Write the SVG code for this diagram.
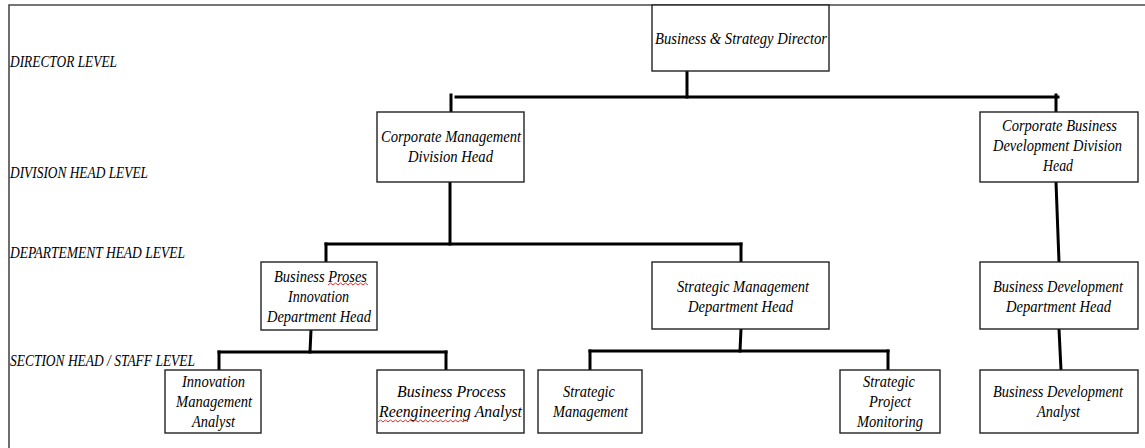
<svg xmlns="http://www.w3.org/2000/svg" width="1145" height="448" viewBox="0 0 1145 448">
<style>
.frame{fill:none;stroke:#4a4a4a;stroke-width:1.6}
.box{fill:#fff;stroke:#222;stroke-width:1.4}
.conn{fill:none;stroke:#000;stroke-width:3;stroke-linecap:square}
.t{font-family:"Liberation Serif","Times New Roman",serif;font-style:italic;font-size:16px;fill:#000;text-anchor:middle}
.lvl{font-family:"Liberation Serif","Times New Roman",serif;font-style:italic;font-size:16px;fill:#000}
.sq{fill:none;stroke:#e0302a;stroke-width:1}
</style>
<rect width="1145" height="448" fill="#fff"/>
<path class="frame" d="M9 448 V5 H1145"/>
<g id="levels">
<text class="lvl" x="10" y="67" textLength="107" lengthAdjust="spacingAndGlyphs">DIRECTOR LEVEL</text>
<text class="lvl" x="10" y="178" textLength="138" lengthAdjust="spacingAndGlyphs">DIVISION HEAD LEVEL</text>
<text class="lvl" x="10" y="258" textLength="175" lengthAdjust="spacingAndGlyphs">DEPARTEMENT HEAD LEVEL</text>
<text class="lvl" x="10" y="366" textLength="185" lengthAdjust="spacingAndGlyphs">SECTION HEAD / STAFF LEVEL</text>
</g>
<g id="connectors">
<path class="conn" d="M687 72 V97"/>
<path class="conn" d="M456 97 H1058"/>
<path class="conn" d="M451 95 V112"/>
<path class="conn" d="M1056 95 V112"/>
<path class="conn" d="M450 182 V244"/>
<path class="conn" d="M326 244 H741"/>
<path class="conn" d="M326 244 V262"/>
<path class="conn" d="M741 244 V262"/>
<path class="conn" d="M1056 182 L1059 262"/>
<path class="conn" d="M311 330 L310 352"/>
<path class="conn" d="M219 352 H446"/>
<path class="conn" d="M219 352 V370"/>
<path class="conn" d="M446 352 V370"/>
<path class="conn" d="M741 329 L740 351"/>
<path class="conn" d="M590 351 H888"/>
<path class="conn" d="M590 351 V370"/>
<path class="conn" d="M888 351 V370"/>
<path class="conn" d="M1059 329 L1061 370"/>
</g>
<g id="director">
<rect class="box" x="652" y="5" width="177" height="66"/>
<text class="t" x="741" y="44" textLength="172" lengthAdjust="spacingAndGlyphs">Business &amp; Strategy Director</text>
</g>
<g id="corp-mgmt-div">
<rect class="box" x="377" y="112" width="147" height="70"/>
<text class="t" x="451" y="142" textLength="140" lengthAdjust="spacingAndGlyphs">Corporate Management</text>
<text class="t" x="450.5" y="162" textLength="85" lengthAdjust="spacingAndGlyphs">Division Head</text>
</g>
<g id="corp-bd-div">
<rect class="box" x="980" y="112" width="158" height="70"/>
<text class="t" x="1059.5" y="131" textLength="115" lengthAdjust="spacingAndGlyphs">Corporate Business</text>
<text class="t" x="1057.5" y="151" textLength="129" lengthAdjust="spacingAndGlyphs">Development Division</text>
<text class="t" x="1058" y="171" textLength="30" lengthAdjust="spacingAndGlyphs">Head</text>
</g>
<g id="bpi-dept">
<rect class="box" x="261" y="262" width="116" height="68"/>
<text class="t" x="320.5" y="282" textLength="93" lengthAdjust="spacingAndGlyphs">Business Proses</text>
<text class="t" x="318.5" y="302" textLength="61" lengthAdjust="spacingAndGlyphs">Innovation</text>
<text class="t" x="319" y="322" textLength="104" lengthAdjust="spacingAndGlyphs">Department Head</text>
<path class="sq" d="M328 285 l2.5 -2 l2.5 2 l2.5 -2 l2.5 2 l2.5 -2 l2.5 2 l2.5 -2 l2.5 2 l2.5 -2 l2.5 2 l2.5 -2 l2.5 2 l2.5 -2 l2.5 2 l2.5 -2 l2.5 2"/>
</g>
<g id="sm-dept">
<rect class="box" x="652" y="262" width="177" height="67"/>
<text class="t" x="743" y="292" textLength="132" lengthAdjust="spacingAndGlyphs">Strategic Management</text>
<text class="t" x="740.5" y="312" textLength="105" lengthAdjust="spacingAndGlyphs">Department Head</text>
</g>
<g id="bd-dept">
<rect class="box" x="980" y="262" width="158" height="67"/>
<text class="t" x="1058" y="292" textLength="130" lengthAdjust="spacingAndGlyphs">Business Development</text>
<text class="t" x="1058.5" y="312" textLength="105" lengthAdjust="spacingAndGlyphs">Department Head</text>
</g>
<g id="innovation-analyst">
<rect class="box" x="165" y="370" width="96" height="63"/>
<text class="t" x="213.5" y="387" textLength="63" lengthAdjust="spacingAndGlyphs">Innovation</text>
<text class="t" x="214" y="407" textLength="76" lengthAdjust="spacingAndGlyphs">Management</text>
<text class="t" x="213.5" y="427" textLength="43" lengthAdjust="spacingAndGlyphs">Analyst</text>
</g>
<g id="bpr-analyst">
<rect class="box" x="377" y="370" width="147" height="63"/>
<text class="t" x="451.5" y="397" textLength="109" lengthAdjust="spacingAndGlyphs">Business Process</text>
<text class="t" x="450.5" y="417" textLength="143" lengthAdjust="spacingAndGlyphs">Reengineering Analyst</text>
<path class="sq" d="M378 422 l2.5 -2 l2.5 2 l2.5 -2 l2.5 2 l2.5 -2 l2.5 2 l2.5 -2 l2.5 2 l2.5 -2 l2.5 2 l2.5 -2 l2.5 2 l2.5 -2 l2.5 2 l2.5 -2 l2.5 2 l2.5 -2 l2.5 2 l2.5 -2 l2.5 2 l2.5 -2 l2.5 2 l2.5 -2 l2.5 2 l2.5 -2 l2.5 2 l2.5 -2 l2.5 2 l2.5 -2 l2.5 2 l2.5 -2 l2.5 2 l2.5 -2 l2.5 2 l2.5 -2 l2.5 2"/>
</g>
<g id="strategic-mgmt">
<rect class="box" x="538" y="370" width="104" height="63"/>
<text class="t" x="589" y="397" textLength="52" lengthAdjust="spacingAndGlyphs">Strategic</text>
<text class="t" x="590.5" y="417" textLength="75" lengthAdjust="spacingAndGlyphs">Management</text>
</g>
<g id="project-monitoring">
<rect class="box" x="840" y="370" width="100" height="63"/>
<text class="t" x="889" y="387" textLength="52" lengthAdjust="spacingAndGlyphs">Strategic</text>
<text class="t" x="890" y="407" textLength="42" lengthAdjust="spacingAndGlyphs">Project</text>
<text class="t" x="890" y="427" textLength="66" lengthAdjust="spacingAndGlyphs">Monitoring</text>
</g>
<g id="bd-analyst">
<rect class="box" x="980" y="370" width="158" height="63"/>
<text class="t" x="1058" y="397" textLength="130" lengthAdjust="spacingAndGlyphs">Business Development</text>
<text class="t" x="1058.5" y="417" textLength="43" lengthAdjust="spacingAndGlyphs">Analyst</text>
</g>
</svg>
